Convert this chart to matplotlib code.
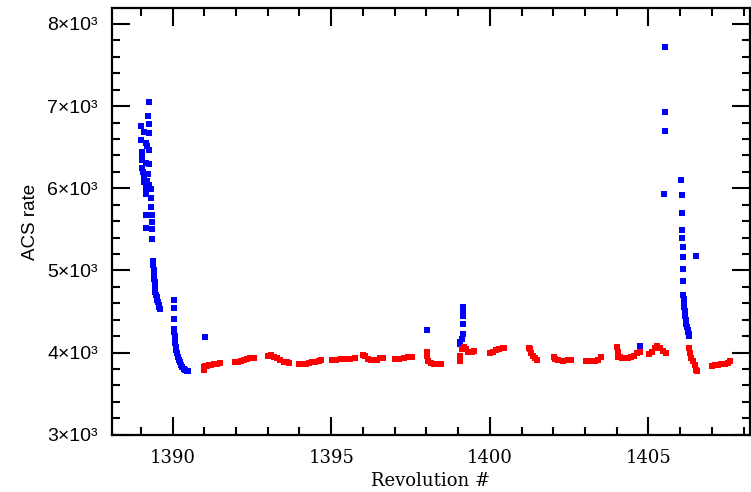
import numpy as np
import matplotlib
matplotlib.use('Agg')
import matplotlib.pyplot as plt
from matplotlib.ticker import MultipleLocator, FuncFormatter

# blue points: flare / high rate intervals
blue_x = [1389.25, 1389.22, 1389.26, 1389.01, 1389.10, 1389.27, 1389.01, 1389.17, 1389.19, 1389.26,
          1389.03, 1389.04, 1389.04, 1389.16, 1389.25, 1389.04, 1389.07, 1389.22, 1389.10, 1389.19,
          1389.26, 1389.10, 1389.15, 1389.31, 1389.15, 1389.31, 1389.31, 1389.15, 1389.34, 1389.35,
          1389.15, 1389.35, 1389.36,
          1389.38, 1389.39, 1389.40, 1389.41, 1389.42, 1389.43, 1389.44, 1389.45, 1389.46, 1389.48,
          1389.50, 1389.52, 1389.54, 1389.56, 1389.58, 1389.60,
          1390.03, 1390.05, 1390.06,
          1390.05, 1390.06, 1390.07, 1390.08, 1390.09, 1390.10, 1390.12, 1390.14, 1390.16, 1390.19,
          1390.22, 1390.26, 1390.30, 1390.35, 1390.40, 1390.45, 1390.50,
          1391.03, 1398.02,
          1399.16, 1399.16, 1399.16, 1399.16, 1399.16, 1399.12, 1399.05, 1399.05,
          1404.73,
          1405.51, 1405.52, 1405.53, 1405.50, 1406.04, 1406.05, 1406.06, 1406.07, 1406.07, 1406.08,
          1406.08, 1406.51, 1406.09, 1406.10,
          1406.10, 1406.11, 1406.12, 1406.13, 1406.14, 1406.15, 1406.17, 1406.19, 1406.21, 1406.23,
          1406.25, 1406.27, 1406.28]
blue_y = [7045, 6878, 6777, 6752, 6680, 6667, 6582, 6553, 6512, 6460,
          6440, 6390, 6340, 6305, 6290, 6245, 6195, 6170, 6120, 6085,
          6035, 6073, 6000, 5988, 5927, 5878, 5768, 5675, 5671, 5590,
          5512, 5500, 5378,
          5120, 5060, 5000, 4950, 4900, 4860, 4820, 4780, 4740, 4700,
          4670, 4640, 4610, 4580, 4550, 4530,
          4634, 4545, 4406,
          4290, 4250, 4200, 4150, 4110, 4070, 4030, 3990, 3950, 3910,
          3880, 3850, 3825, 3805, 3790, 3780, 3770,
          4190, 4270,
          4552, 4500, 4439, 4350, 4228, 4170, 4126, 4100,
          4085,
          7716, 6923, 6699, 5935, 6098, 5923, 5704, 5488, 5399, 5284,
          5162, 5179, 5021, 4870,
          4695, 4650, 4600, 4550, 4500, 4450, 4400, 4350, 4310, 4280,
          4250, 4225, 4207]

# red points: quiescent background
red_x = [1390.98, 1391.00, 1391.03, 1391.08, 1391.15, 1391.22, 1391.30, 1391.40, 1391.48,
         1391.98, 1392.05, 1392.15, 1392.25, 1392.35, 1392.45, 1392.58,
         1393.00, 1393.10, 1393.20, 1393.30, 1393.40, 1393.50, 1393.60, 1393.68,
         1394.00, 1394.10, 1394.20, 1394.30, 1394.40, 1394.50, 1394.60, 1394.68,
         1395.02, 1395.15, 1395.30, 1395.45, 1395.60, 1395.75,
         1396.00, 1396.05, 1396.15, 1396.25, 1396.35, 1396.45, 1396.55, 1396.62,
         1397.02, 1397.15, 1397.30, 1397.42, 1397.55,
         1398.02, 1398.03, 1398.06, 1398.15, 1398.25, 1398.35, 1398.45,
         1399.05, 1399.06, 1399.12, 1399.20, 1399.25, 1399.30, 1399.38, 1399.45, 1399.50,
         1400.02, 1400.10, 1400.20, 1400.30, 1400.40, 1400.45,
         1401.22, 1401.26, 1401.30, 1401.35, 1401.42, 1401.50,
         1402.02, 1402.05, 1402.15, 1402.30, 1402.45, 1402.55,
         1403.02, 1403.15, 1403.30, 1403.42, 1403.50,
         1404.02, 1404.03, 1404.05, 1404.10, 1404.18, 1404.28, 1404.36,
         1404.45, 1404.55, 1404.65, 1404.72,
         1405.02, 1405.10, 1405.20, 1405.28, 1405.36, 1405.45, 1405.55,
         1406.27, 1406.30, 1406.35, 1406.40, 1406.45, 1406.50, 1406.52,
         1407.00, 1407.10, 1407.20, 1407.30, 1407.40, 1407.50, 1407.58]
red_y = [3790, 3820, 3835, 3840, 3845, 3850, 3860, 3865, 3870,
         3890, 3885, 3900, 3910, 3925, 3930, 3935,
         3960, 3965, 3950, 3930, 3905, 3890, 3880, 3875,
         3860, 3855, 3860, 3870, 3880, 3890, 3900, 3905,
         3910, 3912, 3918, 3920, 3925, 3935,
         3975, 3955, 3925, 3905, 3905, 3915, 3930, 3935,
         3920, 3925, 3930, 3945, 3950,
         4010, 3960, 3900, 3870, 3860, 3855, 3855,
         3900, 3960, 4040, 4065, 4040, 4010, 4005, 4010, 4020,
         4000, 4010, 4025, 4040, 4055, 4060,
         4060, 4040, 4000, 3960, 3930, 3910,
         3950, 3920, 3905, 3900, 3905, 3915,
         3900, 3895, 3900, 3915, 3945,
         4070, 4010, 3950, 3940, 3935, 3930, 3935,
         3950, 3960, 3990, 4010,
         3985, 4010, 4060, 4080, 4060, 4020, 4000,
         4050, 3990, 3930, 3900, 3850, 3790, 3775,
         3840, 3845, 3850, 3855, 3860, 3870, 3900]

fig = plt.figure(figsize=(7.51, 4.92), dpi=100)
ax = fig.add_axes([0.1487, 0.1165, 0.85, 0.8666])

ax.plot(blue_x, blue_y, 's', color='#0000ff', markersize=4.8, markeredgewidth=0)
ax.plot(red_x, red_y, 's', color='#ff0000', markersize=4.8, markeredgewidth=0)

ax.set_xlim(1388.08, 1408.2)
ax.set_ylim(3000, 8190)

ax.xaxis.set_major_locator(MultipleLocator(5))
ax.xaxis.set_minor_locator(MultipleLocator(1))
ax.yaxis.set_major_locator(MultipleLocator(1000))
ax.yaxis.set_minor_locator(MultipleLocator(200))
ax.yaxis.set_major_formatter(FuncFormatter(lambda v, p: '%d\u00d710\u00b3' % round(v / 1000)))

ax.tick_params(which='both', direction='in', top=True, right=True, width=1.5, colors='black')
ax.tick_params(which='major', length=13)
ax.tick_params(which='minor', length=6)
ax.tick_params(axis='x', which='major', pad=10)
ax.tick_params(axis='y', which='major', pad=10)
for sp in ax.spines.values():
    sp.set_linewidth(1.6)

for lb in ax.get_xticklabels():
    lb.set_fontfamily('DejaVu Serif')
    lb.set_fontsize(13)
for lb in ax.get_yticklabels():
    lb.set_fontfamily('Liberation Sans')
    lb.set_fontsize(14)

ax.set_xlabel('Revolution #', fontfamily='DejaVu Serif', fontsize=13, labelpad=4)
ax.set_ylabel('ACS rate', fontfamily='Liberation Sans', fontsize=13.5, labelpad=6)

plt.savefig('out.png', dpi=100)
